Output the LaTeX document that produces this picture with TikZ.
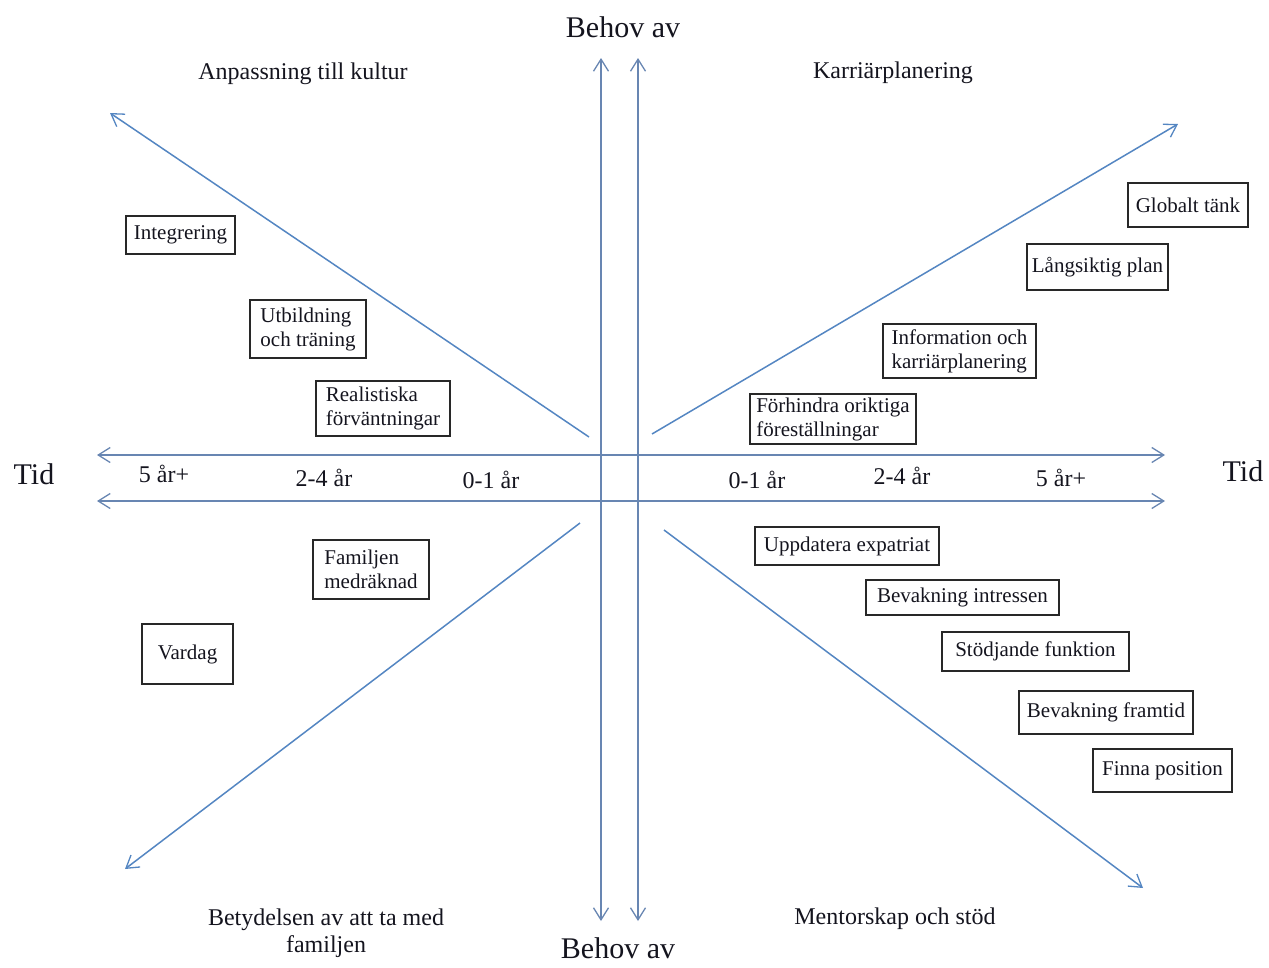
\documentclass[tikz,border=0pt]{standalone}
\usepackage{fontspec}
\setmainfont{Liberation Serif}
\usetikzlibrary{arrows.meta}
\definecolor{axisblue}{RGB}{104,134,178}
\definecolor{diagblue}{RGB}{84,134,194}
\definecolor{boxline}{RGB}{40,40,40}
\definecolor{txt}{RGB}{20,20,30}
\tikzset{
  tip/.tip={Straight Barb[length=12pt,width=15pt,line width=1.3pt]},
  axisline/.style={draw=axisblue,line width=1.5pt,{tip}-{tip}},
  diagline/.style={draw=diagblue,line width=1.5pt,-{tip}},
  box/.style={draw=boxline,line width=1.4pt,align=left,inner sep=2pt,text=txt,
    font=\fontsize{21}{24}\selectfont},
  title/.style={text=txt,align=center,inner sep=0pt,font=\fontsize{24}{27}\selectfont},
  scalelbl/.style={text=txt,inner sep=0pt,font=\fontsize{24}{27}\selectfont},
  biglbl/.style={text=txt,inner sep=0pt,font=\fontsize{30}{33}\selectfont},
}
\newcommand\mybox[6]{%
  \pgfmathsetmacro\bxw{#4-#2}\pgfmathsetmacro\bxh{#5-#3}%
  \pgfmathsetmacro\bxc{(#4+#2)/2}\pgfmathsetmacro\byc{(#5+#3)/2}%
  \node[box,minimum width=\bxw pt,minimum height=\bxh pt] (#1) at (\bxc,\byc) {#6};}
\begin{document}
\begin{tikzpicture}[x=1pt,y=-1pt]
\useasboundingbox (0,0) rectangle (1269,967);
% axes
\coordinate (hL1) at (97,455); \coordinate (hR1) at (1165,455);
\coordinate (hL2) at (97,501); \coordinate (hR2) at (1165,501);
\coordinate (vT1) at (601,58); \coordinate (vB1) at (601,921);
\coordinate (vT2) at (638,58); \coordinate (vB2) at (638,921);
\draw[axisline] (hL1) -- (hR1);
\draw[axisline] (hL2) -- (hR2);
\draw[axisline] (vT1) -- (vB1);
\draw[axisline] (vT2) -- (vB2);
% diagonals
\coordinate (nw0) at (589,437); \coordinate (nw1) at (110,113);
\coordinate (ne0) at (652,434); \coordinate (ne1) at (1178,124);
\coordinate (sw0) at (580,523); \coordinate (sw1) at (125,869);
\coordinate (se0) at (664,530); \coordinate (se1) at (1143,888);
\draw[diagline] (nw0) -- (nw1);
\draw[diagline] (ne0) -- (ne1);
\draw[diagline] (sw0) -- (sw1);
\draw[diagline] (se0) -- (se1);
% big labels
\node[biglbl] (behovT) at (623,27) {Behov av};
\node[biglbl] (behovB) at (618,948) {Behov av};
\node[biglbl] (tidL) at (34,474) {Tid};
\node[biglbl] (tidR) at (1243,471) {Tid};
% titles
\node[title] (anp) at (303,74) {Anpassning till kultur};
\node[title] (kar) at (893,73) {Karriärplanering};
\node[title] (bet) at (326,933) {Betydelsen av att ta med\\familjen};
\node[title] (men) at (895,919) {Mentorskap och stöd};
% scale labels
\node[scalelbl] (l5) at (164,474) {5 år+};
\node[scalelbl] (l24) at (324,478) {2-4 år};
\node[scalelbl] (l01) at (491,480) {0-1 år};
\node[scalelbl] (r01) at (757,480) {0-1 år};
\node[scalelbl] (r24) at (902,476) {2-4 år};
\node[scalelbl] (r5) at (1061,478) {5 år+};
% boxes
\mybox{integ}{126}{216}{235}{254}{Integrering}
\mybox{utb}{250}{300}{366}{358}{Utbildning\\och träning}
\mybox{real}{316}{381}{450}{436}{Realistiska\\förväntningar}
\mybox{glob}{1128}{183}{1248}{227}{Globalt tänk}
\mybox{lang}{1027}{244}{1168}{290}{Långsiktig plan}
\mybox{info}{883}{324}{1036}{378}{Information och\\karriärplanering}
\mybox{forh}{750}{394}{916}{444}{Förhindra oriktiga\\föreställningar}
\mybox{uppd}{755}{527}{939}{565}{Uppdatera expatriat}
\mybox{bevi}{866}{580}{1059}{615}{Bevakning intressen}
\mybox{stod}{942}{632}{1129}{671}{Stödjande funktion}
\mybox{bevf}{1019}{691}{1193}{734}{Bevakning framtid}
\mybox{finn}{1093}{749}{1232}{792}{Finna position}
\mybox{fam}{313}{540}{429}{599}{Familjen\\medräknad}
\mybox{vard}{142}{624}{233}{684}{Vardag}
\end{tikzpicture}
\end{document}
